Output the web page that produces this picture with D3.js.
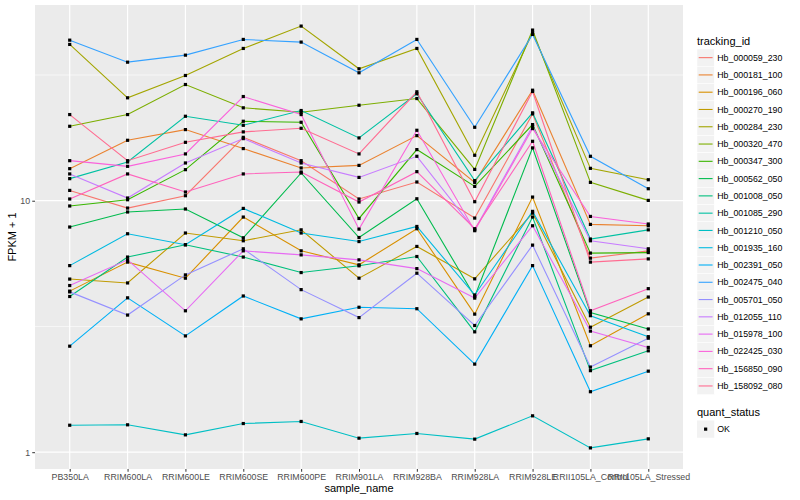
<!DOCTYPE html>
<html>
<head>
<meta charset="utf-8">
<script src="https://cdn.jsdelivr.net/npm/d3@7"></script>
<style>
body { margin: 0; background: #fff; }
text { font-family: "Liberation Sans", Arial, sans-serif; }
</style>
</head>
<body>
<svg id="chart" width="800" height="500"></svg>
<script>
var samples = ["PB350LA", "RRIM600LA", "RRIM600LE", "RRIM600SE", "RRIM600PE", "RRIM901LA",
               "RRIM928BA", "RRIM928LA", "RRIM928LE", "RRII105LA_Control", "RRII105LA_Stressed"];

var trackingIds = ["Hb_000059_230", "Hb_000181_100", "Hb_000196_060", "Hb_000270_190", "Hb_000284_230",
                   "Hb_000320_470", "Hb_000347_300", "Hb_000562_050", "Hb_001008_050", "Hb_001085_290",
                   "Hb_001210_050", "Hb_001935_160", "Hb_002391_050", "Hb_002475_040", "Hb_005701_050",
                   "Hb_012055_110", "Hb_015978_100", "Hb_022425_030", "Hb_156850_090", "Hb_158092_080"];

var hueColors = ["#F8766D", "#EA8331", "#D89000", "#C09B00", "#A3A500", "#7CAE00", "#39B600", "#00BB4E",
                 "#00BF7D", "#00C1A3", "#00BFC4", "#00BAE0", "#00B0F6", "#35A2FF", "#9590FF", "#C77CFF",
                 "#E76BF3", "#FA62DB", "#FF62BC", "#FF6C91"];

// FPKM + 1 per sample, same order as samples
var hb_000059_230 = [10.99, 9.35, 10.47, 17.87, 14.43, 10.16, 11.87, 8.53, 22.15, 5.91, 6.32];
var hb_000181_100 = [13.41, 17.39, 19.18, 16.12, 13.50, 13.82, 18.15, 11.83, 27.51, 8.05, 7.95];
var hb_000196_060 = [4.37, 5.70, 4.92, 8.61, 6.32, 5.56, 7.74, 3.54, 10.34, 2.65, 3.55];
var hb_000270_190 = [4.88, 4.71, 7.44, 6.93, 7.66, 4.92, 6.58, 4.89, 8.93, 3.14, 4.14];
var hb_000284_230 = [41.83, 25.66, 31.48, 40.32, 49.48, 33.47, 40.32, 15.16, 46.57, 13.45, 12.12];
var hb_000320_470 = [19.77, 22.01, 28.98, 23.41, 22.48, 23.97, 25.49, 13.32, 47.70, 11.83, 10.03];
var hb_000347_300 = [9.53, 10.09, 13.29, 20.70, 20.51, 8.50, 15.97, 11.40, 20.08, 6.19, 6.22];
var hb_000562_050 = [7.86, 9.02, 9.27, 7.12, 12.89, 7.14, 10.18, 4.16, 16.22, 3.59, 3.09];
var hb_001008_050 = [4.16, 5.97, 6.68, 5.97, 5.18, 5.51, 6.00, 3.01, 8.61, 2.11, 2.53];
var hb_001085_290 = [12.24, 14.26, 21.67, 19.95, 22.84, 17.77, 26.62, 12.02, 22.36, 7.04, 7.66];
var hb_001210_050 = [1.28, 1.285, 1.172, 1.30, 1.325, 1.137, 1.187, 1.127, 1.395, 1.04, 1.13];
var hb_001935_160 = [5.52, 7.39, 6.68, 9.32, 7.44, 6.88, 7.90, 4.22, 9.07, 3.49, 2.88];
var hb_002391_050 = [2.64, 4.11, 2.90, 4.18, 3.39, 3.77, 3.72, 2.24, 5.52, 1.74, 2.10];
var hb_002475_040 = [43.5, 35.56, 37.92, 43.79, 42.73, 32.27, 43.79, 19.59, 45.85, 15.02, 11.16];
var hb_005701_050 = [4.34, 3.51, 5.07, 6.44, 4.43, 3.43, 5.15, 3.19, 6.66, 2.18, 2.84];
var hb_012055_110 = [12.78, 10.25, 14.13, 17.66, 14.13, 12.38, 15.02, 7.66, 19.77, 6.93, 6.44];
var hb_015978_100 = [4.60, 5.82, 3.65, 6.32, 6.09, 5.82, 5.37, 4.10, 7.95, 3.03, 2.61];
var hb_022425_030 = [14.43, 13.70, 15.35, 25.96, 22.01, 7.71, 19.06, 7.60, 19.36, 8.66, 8.08];
var hb_156850_090 = [10.16, 12.78, 10.83, 12.78, 13.01, 9.88, 13.05, 7.74, 17.23, 3.65, 4.47];
var hb_158092_080 = [22.01, 14.43, 17.07, 18.78, 19.41, 15.35, 27.11, 9.91, 27.19, 5.70, 5.87];

var seriesValues = [hb_000059_230, hb_000181_100, hb_000196_060, hb_000270_190, hb_000284_230,
                    hb_000320_470, hb_000347_300, hb_000562_050, hb_001008_050, hb_001085_290,
                    hb_001210_050, hb_001935_160, hb_002391_050, hb_002475_040, hb_005701_050,
                    hb_012055_110, hb_015978_100, hb_022425_030, hb_156850_090, hb_158092_080];

var yTicks = [1, 10];
var yTickLabels = ["1", "10"];
var yMinorTicks = [Math.sqrt(10), Math.sqrt(1000)];
var statusLevels = ["OK"];

var svg = d3.select("#chart"),
    margin = {top: 5, right: 117, bottom: 31, left: 35},
    width = +svg.attr("width") - margin.left - margin.right,
    height = +svg.attr("height") - margin.top - margin.bottom,
    g = svg.append("g").attr("transform", "translate(" + margin.left + "," + margin.top + ")");

var series = trackingIds.map(function(id, i) {
    return {id: id, values: samples.map(function(s, j) { return {sample: s, value: seriesValues[i][j]}; })};
});

// ggplot style: 5% expansion in log space
var allVals = d3.merge(seriesValues);
var ext = d3.extent(allVals).map(Math.log10);
var pad = (ext[1] - ext[0]) * 0.05;

var x = d3.scalePoint()
    .domain(samples)
    .range([0, width])
    .padding(0.6);

var y = d3.scaleLog()
    .domain([Math.pow(10, ext[0] - pad), Math.pow(10, ext[1] + pad)])
    .range([height, 0]);

var z = d3.scaleOrdinal().domain(trackingIds).range(hueColors);

var pt = 3.2; // point (square) size

// panel
g.append("rect")
    .attr("width", width)
    .attr("height", height)
    .attr("fill", "#EBEBEB");

g.append("g").selectAll("line")
    .data(yMinorTicks)
    .enter().append("line")
    .attr("x1", 0).attr("x2", width)
    .attr("y1", function(d) { return y(d); })
    .attr("y2", function(d) { return y(d); })
    .attr("stroke", "#fff")
    .attr("stroke-width", 0.6);

g.append("g").selectAll("line")
    .data(yTicks)
    .enter().append("line")
    .attr("x1", 0).attr("x2", width)
    .attr("y1", function(d) { return y(d); })
    .attr("y2", function(d) { return y(d); })
    .attr("stroke", "#fff")
    .attr("stroke-width", 1.2);

g.append("g").selectAll("line")
    .data(samples)
    .enter().append("line")
    .attr("x1", function(d) { return x(d); })
    .attr("x2", function(d) { return x(d); })
    .attr("y1", 0).attr("y2", height)
    .attr("stroke", "#fff")
    .attr("stroke-width", 1.2);

var line = d3.line()
    .x(function(d) { return x(d.sample); })
    .y(function(d) { return y(d.value); });

g.append("g").selectAll("path")
    .data(series)
    .enter().append("path")
    .attr("d", function(d) { return line(d.values); })
    .attr("fill", "none")
    .attr("stroke", function(d) { return z(d.id); })
    .attr("stroke-width", 1.1);

g.append("g").selectAll("g")
    .data(series)
    .enter().append("g")
    .selectAll("rect")
    .data(function(d) { return d.values; })
    .enter().append("rect")
    .attr("x", function(d) { return x(d.sample) - pt / 2; })
    .attr("y", function(d) { return y(d.value) - pt / 2; })
    .attr("width", pt)
    .attr("height", pt)
    .attr("fill", "#000");

// axes
var xAxis = g.append("g")
    .attr("transform", "translate(0," + height + ")")
    .call(d3.axisBottom(x).tickSize(2.75).tickPadding(2.2));

var yAxis = g.append("g")
    .call(d3.axisLeft(y).tickValues(yTicks)
        .tickFormat(function(d, i) { return yTickLabels[i]; })
        .tickSize(2.75).tickPadding(2.2));

[xAxis, yAxis].forEach(function(a) {
    a.select(".domain").remove();
    a.selectAll(".tick line").attr("stroke", "#333333").attr("stroke-width", 1);
    a.selectAll(".tick text")
        .attr("fill", "#4D4D4D")
        .attr("font-size", "8.8px")
        .attr("font-family", "Liberation Sans, Arial, sans-serif");
});

svg.append("text")
    .attr("x", margin.left + width / 2)
    .attr("y", 492)
    .attr("text-anchor", "middle")
    .attr("font-size", "11px")
    .text("sample_name");

svg.append("text")
    .attr("transform", "translate(16," + (margin.top + height / 2) + ") rotate(-90)")
    .attr("text-anchor", "middle")
    .attr("font-size", "11px")
    .text("FPKM + 1");

// legends
var legX = 697, keySize = 17.28;

svg.append("text")
    .attr("x", legX)
    .attr("y", 44.5)
    .attr("font-size", "11px")
    .text("tracking_id");

var legend = svg.append("g")
    .selectAll("g")
    .data(trackingIds)
    .enter().append("g")
    .attr("transform", function(d, i) { return "translate(" + legX + "," + (49 + i * keySize) + ")"; });

legend.append("rect")
    .attr("width", keySize)
    .attr("height", keySize)
    .attr("fill", "#F2F2F2")
    .attr("stroke", "#fff")
    .attr("stroke-width", 0.5);

legend.append("line")
    .attr("x1", 1.7).attr("x2", keySize - 1.7)
    .attr("y1", keySize / 2).attr("y2", keySize / 2)
    .attr("stroke", z)
    .attr("stroke-width", 1.1);

legend.append("text")
    .attr("x", keySize + 3)
    .attr("y", keySize / 2)
    .attr("dy", "0.35em")
    .attr("font-size", "8.8px")
    .text(function(d) { return d; });

svg.append("text")
    .attr("x", legX)
    .attr("y", 416)
    .attr("font-size", "11px")
    .text("quant_status");

var legend2 = svg.append("g")
    .selectAll("g")
    .data(statusLevels)
    .enter().append("g")
    .attr("transform", function(d, i) { return "translate(" + legX + "," + (420.5 + i * keySize) + ")"; });

legend2.append("rect")
    .attr("width", keySize)
    .attr("height", keySize)
    .attr("fill", "#F2F2F2");

legend2.append("rect")
    .attr("x", keySize / 2 - pt / 2)
    .attr("y", keySize / 2 - pt / 2)
    .attr("width", pt)
    .attr("height", pt)
    .attr("fill", "#000");

legend2.append("text")
    .attr("x", keySize + 3)
    .attr("y", keySize / 2)
    .attr("dy", "0.35em")
    .attr("font-size", "8.8px")
    .text(function(d) { return d; });
</script>
</body>
</html>
